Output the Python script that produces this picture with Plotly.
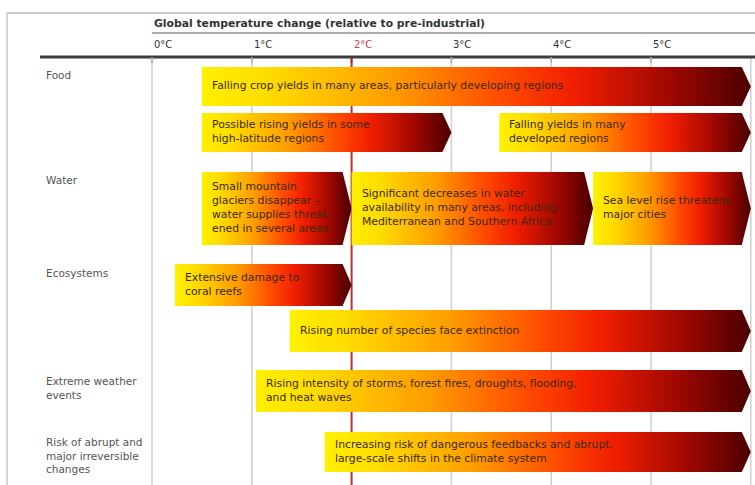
import plotly.graph_objects as go

# ---------------- data ----------------
header_title = "Global temperature change (relative to pre-industrial)"
tick_values = [0, 1, 2, 3, 4, 5]
tick_labels = ["0°C", "1°C", "2°C", "3°C", "4°C", "5°C"]
threshold_value = 2

categories = ["Food", "Water", "Ecosystems", "Extreme weather<br>events",
              "Risk of abrupt and<br>major irreversible<br>changes"]

impact_category = [0, 0, 0, 1, 1, 1, 2, 2, 3, 4]
impact_start = [0.5, 0.5, 3.48, 0.5, 2.0, 4.42, 0.23, 1.38, 1.04, 1.73]
impact_end = [6.0, 3.0, 6.0, 2.0, 4.42, 6.0, 2.0, 6.0, 6.0, 6.0]
impact_text = [
    "Falling crop yields in many areas, particularly developing regions",
    "Possible rising yields in some<br>high-latitude regions",
    "Falling yields in many<br>developed regions",
    "Small mountain<br>glaciers disappear –<br>water supplies threat-<br>ened in several areas",
    "Significant decreases in water<br>availability in many areas, including<br>Mediterranean and Southern Africa",
    "Sea level rise threatens<br>major cities",
    "Extensive damage to<br>coral reefs",
    "Rising number of species face extinction",
    "Rising intensity of storms, forest fires, droughts, flooding,<br>and heat waves",
    "Increasing risk of dangerous feedbacks and abrupt,<br>large-scale shifts in the climate system",
]

# ---------------- layout (pixel geometry) ----------------
W, H = 755, 485
X0_PX, PX_PER_DEG = 152, 99.8
x_min = (0 - X0_PX) / PX_PER_DEG
x_max = (W - X0_PX) / PX_PER_DEG

def px_to_x(px):
    return (px - X0_PX) / PX_PER_DEG

# vertical band (top, bottom) of each bar, in pixels
bar_band = [(67, 106), (113, 152), (113, 152), (172, 245), (172, 245), (172, 245),
            (264, 306), (310, 352), (370, 412), (432, 472)]
label_y = [75, 180, 273, 388, 455]

arrow_d = 9 / PX_PER_DEG
pad = 8 / PX_PER_DEG

FONT = "DejaVu Sans"
scale = [[0.0, "#FFF000"], [0.12, "#FFDC00"], [0.35, "#FF9C00"], [0.55, "#FF4A00"],
         [0.68, "#F01E00"], [0.85, "#A00800"], [1.0, "#4A0000"]]

fig = go.Figure()

for i in range(len(impact_start)):
    s, e = impact_start[i], impact_end[i]
    t, b = bar_band[i]
    m = (t + b) / 2
    fig.add_trace(go.Scatter(
        x=[s, e - arrow_d, e, e - arrow_d, s, s],
        y=[t, t, m, b, b, t],
        mode="lines", fill="toself",
        line=dict(width=0, color="rgba(0,0,0,0)"),
        fillgradient=dict(type="horizontal", colorscale=scale),
        hoverinfo="skip", showlegend=False,
    ))
    fig.add_annotation(x=s + pad, y=m - 1, text=impact_text[i], xanchor="left", yanchor="middle",
                       align="left", showarrow=False,
                       font=dict(family=FONT, size=10.8, color="#3a2a00"))

shapes = []
line_top = 57
# gridlines
for v in tick_values + [6]:
    if v == threshold_value:
        continue
    shapes.append(dict(type="line", xref="x", yref="y", x0=v, x1=v, y0=line_top, y1=H,
                       line=dict(color="#cfcfcf", width=1.5), layer="below"))
shapes.append(dict(type="line", xref="x", yref="y", x0=threshold_value, x1=threshold_value,
                   y0=line_top, y1=H, line=dict(color="#c0302a", width=2), layer="below"))
# frame lines
shapes.append(dict(type="line", xref="x", yref="y", x0=px_to_x(7), x1=x_max, y0=13, y1=13,
                   line=dict(color="#b8b8b8", width=1.5)))
shapes.append(dict(type="line", xref="x", yref="y", x0=px_to_x(7), x1=px_to_x(7), y0=13, y1=H,
                   line=dict(color="#c8c8c8", width=1.5)))
shapes.append(dict(type="line", xref="x", yref="y", x0=0, x1=x_max, y0=33, y1=33,
                   line=dict(color="#909090", width=1.5)))
shapes.append(dict(type="line", xref="x", yref="y", x0=px_to_x(40), x1=x_max, y0=line_top, y1=line_top,
                   line=dict(color="#3c3c3c", width=3)))
for v in tick_values:
    shapes.append(dict(type="line", xref="x", yref="y", x0=v, x1=v, y0=line_top, y1=line_top + 6,
                       line=dict(color="#a02020" if v == threshold_value else "#aaaaaa", width=1.5)))

fig.add_annotation(x=0, y=23, text="<b>" + header_title + "</b>", xanchor="left", yanchor="middle",
                   showarrow=False, font=dict(family=FONT, size=10.8, color="#333333"))
for v, lab in zip(tick_values, tick_labels):
    fig.add_annotation(x=v, y=44, text=lab, xanchor="left", yanchor="middle", showarrow=False,
                       font=dict(family=FONT, size=10,
                                 color="#d04040" if v == threshold_value else "#333333"))
for lab, y in zip(categories, label_y):
    fig.add_annotation(x=px_to_x(44), y=y, text=lab, xanchor="left", yanchor="middle", align="left",
                       showarrow=False, font=dict(family=FONT, size=10.5, color="#555555"))

fig.update_layout(
    width=W, height=H, margin=dict(l=0, r=0, t=0, b=0),
    paper_bgcolor="white", plot_bgcolor="white",
    xaxis=dict(range=[x_min, x_max], visible=False, fixedrange=True),
    yaxis=dict(range=[H, 0], visible=False, fixedrange=True),
    shapes=shapes,
)

fig.write_html("out.html")
